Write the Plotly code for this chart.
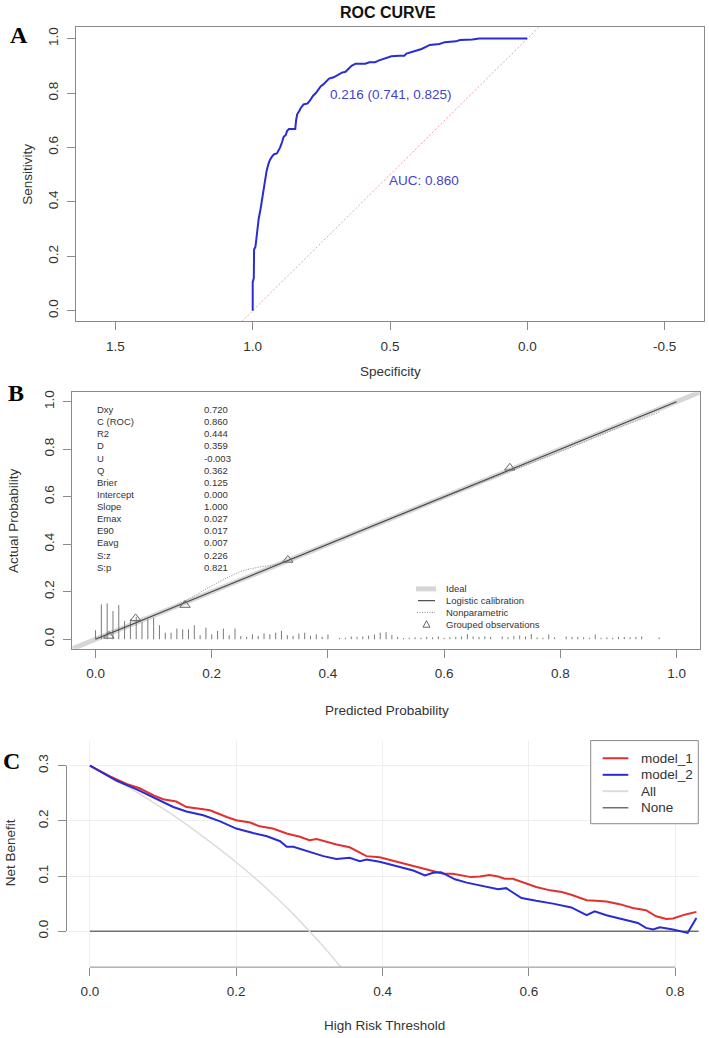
import plotly.graph_objects as go

# ---------------- data ----------------
# Panel A: ROC curve (specificity, sensitivity)
roc_spec = [1.000, 1.000, 0.996, 0.995, 0.990, 0.982, 0.978, 0.972, 0.968, 0.962, 0.956, 0.950,
            0.944, 0.938, 0.930, 0.922, 0.912, 0.905, 0.900, 0.893, 0.887, 0.880, 0.875, 0.868,
            0.845, 0.842, 0.838, 0.830, 0.825, 0.815, 0.800, 0.790, 0.780, 0.770, 0.760, 0.752,
            0.745, 0.735, 0.722, 0.705, 0.690, 0.675, 0.662, 0.640, 0.625, 0.590, 0.575, 0.555,
            0.540, 0.525, 0.510, 0.495, 0.465, 0.448, 0.440, 0.420, 0.400, 0.385, 0.370, 0.355,
            0.320, 0.300, 0.260, 0.245, 0.200, 0.175, 0.000]
roc_sens = [0.000, 0.105, 0.120, 0.225, 0.235, 0.310, 0.340, 0.370, 0.395, 0.440, 0.480, 0.510,
            0.535, 0.552, 0.566, 0.575, 0.578, 0.590, 0.600, 0.620, 0.640, 0.645, 0.660, 0.668,
            0.668, 0.700, 0.722, 0.735, 0.745, 0.758, 0.762, 0.775, 0.790, 0.800, 0.815, 0.825,
            0.830, 0.840, 0.853, 0.858, 0.865, 0.875, 0.878, 0.900, 0.908, 0.908, 0.913, 0.913,
            0.920, 0.925, 0.928, 0.935, 0.937, 0.937, 0.945, 0.950, 0.957, 0.962, 0.970, 0.977,
            0.980, 0.987, 0.990, 0.995, 0.997, 1.000, 1.000]
diag_spec = [1.05, -0.05]
diag_sens = [-0.05, 1.05]
roc_title = "ROC CURVE"
thres_label = "0.216 (0.741, 0.825)"
auc_label = "AUC: 0.860"

# Panel B: calibration
stat_names = ["Dxy", "C (ROC)", "R2", "D", "U", "Q", "Brier", "Intercept", "Slope",
              "Emax", "E90", "Eavg", "S:z", "S:p"]
stat_values = ["0.720", "0.860", "0.444", "0.359", "-0.003", "0.362", "0.125", "0.000",
               "1.000", "0.027", "0.017", "0.007", "0.226", "0.821"]
ideal_x = [-0.05, 1.05]
ideal_y = [-0.05, 1.05]
logit_x = [0.0, 1.0]
logit_y = [0.0, 1.0]
nonpar_x = [0.00, 0.05, 0.10, 0.15, 0.20, 0.25, 0.28, 0.31, 0.34, 0.40, 0.50, 0.60, 0.70, 0.80, 0.90, 0.97]
nonpar_y = [0.005, 0.050, 0.100, 0.155, 0.225, 0.285, 0.303, 0.315, 0.340, 0.400, 0.500, 0.597, 0.695, 0.790, 0.890, 0.955]
group_x = [0.023, 0.069, 0.154, 0.331, 0.713]
group_y = [0.014, 0.088, 0.144, 0.334, 0.722]
spike_x = [0.00, 0.01, 0.02, 0.03, 0.04, 0.05, 0.06, 0.07, 0.08, 0.09,
           0.10, 0.11, 0.12, 0.13, 0.14, 0.15, 0.16, 0.17, 0.18, 0.19,
           0.20, 0.21, 0.22, 0.23, 0.24, 0.25, 0.26, 0.27, 0.28, 0.29,
           0.30, 0.31, 0.32, 0.33, 0.34, 0.35, 0.36, 0.37, 0.38, 0.39,
           0.40, 0.41, 0.42, 0.43, 0.44, 0.45, 0.46, 0.47, 0.48, 0.49,
           0.50, 0.51, 0.52, 0.53, 0.54, 0.55, 0.56, 0.57, 0.58, 0.59,
           0.60, 0.61, 0.62, 0.63, 0.64, 0.65, 0.66, 0.67, 0.68, 0.69,
           0.70, 0.71, 0.72, 0.73, 0.74, 0.75, 0.76, 0.77, 0.78, 0.79,
           0.80, 0.81, 0.82, 0.83, 0.84, 0.85, 0.86, 0.87, 0.88, 0.89,
           0.90, 0.91, 0.92, 0.93, 0.94, 0.95, 0.96, 0.97]
spike_h = [0.038, 0.147, 0.151, 0.119, 0.144, 0.077, 0.084, 0.095, 0.073, 0.084,
           0.091, 0.059, 0.028, 0.028, 0.045, 0.042, 0.042, 0.059, 0.017, 0.049,
           0.021, 0.035, 0.045, 0.017, 0.045, 0.014, 0.010, 0.021, 0.014, 0.025,
           0.021, 0.028, 0.035, 0.017, 0.014, 0.024, 0.028, 0.014, 0.021, 0.011,
           0.020, 0.000, 0.006, 0.006, 0.012, 0.010, 0.012, 0.015, 0.020, 0.028,
           0.030, 0.018, 0.010, 0.005, 0.006, 0.008, 0.006, 0.010, 0.008, 0.012,
           0.006, 0.008, 0.010, 0.012, 0.022, 0.012, 0.010, 0.012, 0.010, 0.000,
           0.012, 0.008, 0.014, 0.016, 0.012, 0.022, 0.008, 0.006, 0.020, 0.008,
           0.000, 0.012, 0.010, 0.010, 0.008, 0.006, 0.020, 0.006, 0.008, 0.006,
           0.010, 0.010, 0.008, 0.010, 0.012, 0.000, 0.000, 0.008]
legend_b = ["Ideal", "Logistic calibration", "Nonparametric", "Grouped observations"]

# Panel C: decision curves
m1_thr = [0.000, 0.027, 0.050, 0.068, 0.087, 0.100, 0.118, 0.132, 0.150, 0.164, 0.187, 0.200,
          0.219, 0.232, 0.250, 0.269, 0.287, 0.300, 0.310, 0.324, 0.337, 0.355, 0.369, 0.378,
          0.396, 0.419, 0.442, 0.460, 0.483, 0.496, 0.505, 0.521, 0.533, 0.546, 0.558, 0.567,
          0.578, 0.597, 0.610, 0.629, 0.645, 0.658, 0.679, 0.692, 0.706, 0.724, 0.742, 0.760,
          0.774, 0.788, 0.797, 0.813, 0.829]
m1_nb = [0.300, 0.281, 0.267, 0.259, 0.246, 0.239, 0.235, 0.225, 0.222, 0.219, 0.207, 0.201,
         0.197, 0.190, 0.186, 0.177, 0.171, 0.165, 0.167, 0.162, 0.157, 0.152, 0.142, 0.136,
         0.134, 0.126, 0.119, 0.113, 0.104, 0.104, 0.102, 0.098, 0.099, 0.102, 0.099, 0.095,
         0.095, 0.086, 0.080, 0.074, 0.071, 0.066, 0.056, 0.055, 0.054, 0.049, 0.042, 0.038,
         0.027, 0.022, 0.023, 0.030, 0.035]
m2_thr = [0.000, 0.036, 0.064, 0.096, 0.114, 0.132, 0.155, 0.178, 0.200, 0.223, 0.242, 0.260,
          0.269, 0.278, 0.296, 0.319, 0.337, 0.355, 0.369, 0.378, 0.396, 0.419, 0.442, 0.458,
          0.469, 0.480, 0.499, 0.515, 0.533, 0.558, 0.569, 0.590, 0.610, 0.633, 0.658, 0.679,
          0.690, 0.706, 0.724, 0.749, 0.760, 0.770, 0.779, 0.797, 0.817, 0.822, 0.829]
m2_nb = [0.300, 0.273, 0.257, 0.237, 0.225, 0.217, 0.210, 0.199, 0.186, 0.178, 0.172, 0.163,
         0.153, 0.153, 0.145, 0.136, 0.131, 0.133, 0.127, 0.130, 0.126, 0.118, 0.110, 0.101,
         0.106, 0.107, 0.094, 0.088, 0.083, 0.076, 0.078, 0.060, 0.055, 0.050, 0.043, 0.029,
         0.036, 0.029, 0.023, 0.015, 0.006, 0.003, 0.007, 0.003, -0.003, 0.008, 0.024]
all_thr = [0.000, 0.025, 0.050, 0.075, 0.100, 0.125, 0.150, 0.175, 0.200, 0.225, 0.250, 0.275,
           0.300, 0.320, 0.343]
all_nb = [0.300, 0.282, 0.263, 0.243, 0.222, 0.200, 0.176, 0.151, 0.125, 0.097, 0.067, 0.035,
          0.000, -0.029, -0.065]
none_thr = [0.0, 0.84]
none_nb = [0.0, 0.0]
legend_c = ["model_1", "model_2", "All", "None"]

# ---------------- styling ----------------
W, H = 709, 1038
FONT = "Liberation Sans, Arial, sans-serif"
SERIF = "Liberation Serif, Times New Roman, serif"
TXT = "#333333"
AXC = "#8a8a8a"
RED = "#e0302f"
BLUE = "#2b2bd2"
FINE_DOT = "1px,1.5px"


def px(x):
    return x / W


def py(y):
    return 1 - y / H


fig = go.Figure()

# Panel A
fig.add_trace(go.Scatter(x=diag_spec, y=diag_sens, mode="lines", xaxis="x", yaxis="y",
                         line=dict(color="#e9a0a0", width=1, dash="2px,2px"), hoverinfo="skip"))
fig.add_trace(go.Scatter(x=roc_spec, y=roc_sens, mode="lines", xaxis="x", yaxis="y",
                         line=dict(color="#2a2ad6", width=2)))

# Panel B
fig.add_trace(go.Scatter(x=ideal_x, y=ideal_y, mode="lines", xaxis="x2", yaxis="y2",
                         line=dict(color="#d6d6d6", width=5)))
sx, sy = [], []
for xv, hv in zip(spike_x, spike_h):
    if hv > 0:
        sx += [xv, xv, None]
        sy += [0, hv, None]
fig.add_trace(go.Scatter(x=sx, y=sy, mode="lines", xaxis="x2", yaxis="y2",
                         line=dict(color="#7a7a7a", width=1)))
fig.add_trace(go.Scatter(x=nonpar_x, y=nonpar_y, mode="lines", xaxis="x2", yaxis="y2",
                         line=dict(color="#8a8a8a", width=1, dash=FINE_DOT, shape="spline")))
fig.add_trace(go.Scatter(x=logit_x, y=logit_y, mode="lines", xaxis="x2", yaxis="y2",
                         line=dict(color="#4a4a4a", width=1.2)))
fig.add_trace(go.Scatter(x=group_x, y=group_y, mode="markers", xaxis="x2", yaxis="y2",
                         marker=dict(symbol="triangle-up-open", size=9, color="#666666",
                                     line=dict(width=1, color="#666666"))))

# Panel C
fig.add_trace(go.Scatter(x=none_thr, y=none_nb, mode="lines", xaxis="x3", yaxis="y3",
                         line=dict(color="#707070", width=1.5)))
fig.add_trace(go.Scatter(x=all_thr, y=all_nb, mode="lines", xaxis="x3", yaxis="y3",
                         line=dict(color="#dcdcdc", width=1.5, shape="spline")))
fig.add_trace(go.Scatter(x=m1_thr, y=m1_nb, mode="lines", xaxis="x3", yaxis="y3",
                         line=dict(color=RED, width=2)))
fig.add_trace(go.Scatter(x=m2_thr, y=m2_nb, mode="lines", xaxis="x3", yaxis="y3",
                         line=dict(color=BLUE, width=2)))


def axis(**kw):
    base = dict(showgrid=False, zeroline=False, ticks="outside", ticklen=8, tickwidth=1,
                tickcolor=AXC, tickfont=dict(family=FONT, size=13.5, color=TXT),
                linecolor=AXC, linewidth=1, ticklabelstandoff=4)
    base.update(kw)
    return base


ticks01 = [0.0, 0.2, 0.4, 0.6, 0.8, 1.0]
ticks01_t = ["0.0", "0.2", "0.4", "0.6", "0.8", "1.0"]

fig.update_layout(
    width=W, height=H, margin=dict(l=0, r=0, t=0, b=0),
    paper_bgcolor="white", plot_bgcolor="white", showlegend=False,
    xaxis=axis(domain=[px(76), px(703.6)], range=[1.6435, -0.642], anchor="y",
               tickvals=[1.5, 1.0, 0.5, 0.0, -0.5], ticktext=["1.5", "1.0", "0.5", "0.0", "-0.5"],
               showline=True, mirror=True),
    yaxis=axis(domain=[py(320), py(25)], range=[-0.0393, 1.0429], anchor="x",
               tickvals=ticks01, ticktext=ticks01_t, tickangle=-90, showline=True, mirror=True),
    xaxis2=axis(domain=[px(72.3), px(699.8)], range=[-0.04, 1.04], anchor="y2",
                tickvals=ticks01, ticktext=ticks01_t, showline=True, mirror=True),
    yaxis2=axis(domain=[py(648), py(391)], range=[-0.04, 1.04], anchor="x2",
                tickvals=ticks01, ticktext=ticks01_t, tickangle=-90, showline=True, mirror=True),
    xaxis3=axis(domain=[px(66.5), px(698.6)], range=[-0.032, 0.832], anchor="y3",
                tickvals=[0.0, 0.2, 0.4, 0.6, 0.8], ticktext=["0.0", "0.2", "0.4", "0.6", "0.8"],
                showgrid=True, gridcolor="#efefef", gridwidth=1, showline=False),
    yaxis3=axis(domain=[py(967), py(740)], range=[-0.0651, 0.3454], anchor="x3",
                tickvals=[0.0, 0.1, 0.2, 0.3], ticktext=["0.0", "0.1", "0.2", "0.3"],
                tickangle=-90, showgrid=True, gridcolor="#efefef", gridwidth=1, showline=False),
)

ann = []


def text(x, y, s, size=13.5, color=TXT, family=FONT, angle=0, xanchor="center", bold=False,
         xref="paper", yref="paper"):
    ann.append(dict(x=x, y=y, xref=xref, yref=yref, text=("<b>%s</b>" % s) if bold else s,
                    showarrow=False, textangle=angle, xanchor=xanchor, yanchor="middle",
                    font=dict(family=family, size=size, color=color)))


# titles / labels
text(px(388), py(11), roc_title, size=16, color="#111111", bold=True)
text(px(19), py(33), "A", size=24, color="#000000", family=SERIF, bold=True)
text(px(16), py(392), "B", size=24, color="#000000", family=SERIF, bold=True)
text(px(11), py(760), "C", size=24, color="#000000", family=SERIF, bold=True)
text(px(390), py(370), "Specificity")
text(px(28), py(173), "Sensitivity", angle=-90)
text(px(14), py(520), "Actual Probability", angle=-90)
text(px(387), py(710), "Predicted Probability")
text(px(10), py(853), "Net Benefit", angle=-90)
text(px(384), py(1025), "High Risk Threshold")

# ROC annotations (data coords)
text(0.726, 0.793, thres_label, color="#4343d0", xanchor="left", xref="x", yref="y")
text(0.512, 0.478, auc_label, color="#4343d0", xanchor="left", xref="x", yref="y")

# stats block in B
for i, (n, v) in enumerate(zip(stat_names, stat_values)):
    yy = 408.3 + i * 12.15
    text(px(95), py(yy), n, size=9.5, color="#333333", xanchor="left")
    text(px(201.7), py(yy), v, size=9.5, color="#333333", xanchor="left")

# legend B
shapes = []
leg_b_y = [588, 599.8, 611.6, 623.4]
for lab, yy in zip(legend_b, leg_b_y):
    text(px(444), py(yy), lab, size=9.5, color="#333333", xanchor="left")
shapes.append(dict(type="line", xref="paper", yref="paper", x0=px(416), x1=px(436),
                   y0=py(leg_b_y[0]), y1=py(leg_b_y[0]), line=dict(color="#d6d6d6", width=5)))
shapes.append(dict(type="line", xref="paper", yref="paper", x0=px(418), x1=px(435),
                   y0=py(leg_b_y[1]), y1=py(leg_b_y[1]), line=dict(color="#4a4a4a", width=1.2)))
shapes.append(dict(type="line", xref="paper", yref="paper", x0=px(417), x1=px(435),
                   y0=py(leg_b_y[2]), y1=py(leg_b_y[2]), line=dict(color="#8a8a8a", width=1, dash=FINE_DOT)))
tc = (426.5, leg_b_y[3])
shapes.append(dict(type="path", xref="paper", yref="paper",
                   path="M %f,%f L %f,%f L %f,%f Z" % (px(tc[0] - 3.5), py(tc[1] + 3), px(tc[0] + 3.5),
                                                        py(tc[1] + 3), px(tc[0]), py(tc[1] - 3.5)),
                   line=dict(color="#666666", width=1)))

# legend C
shapes.append(dict(type="rect", xref="paper", yref="paper", x0=px(590.7), x1=px(698.3),
                   y0=py(823.3), y1=py(740), line=dict(color=AXC, width=1), fillcolor="white"))
leg_c_y = [757.7, 774.3, 790.7, 807.3]
leg_c_col = [RED, BLUE, "#dcdcdc", "#707070"]
leg_c_w = [2, 2, 2, 1.5]
for lab, yy, col, w in zip(legend_c, leg_c_y, leg_c_col, leg_c_w):
    shapes.append(dict(type="line", xref="paper", yref="paper", x0=px(602.7), x1=px(628.3),
                       y0=py(yy), y1=py(yy), line=dict(color=col, width=w)))
    text(px(639.3), py(yy), lab, size=13.5, xanchor="left")

# C detached axis lines (R style)
shapes.append(dict(type="line", xref="x3", yref="y3 domain", x0=0.0, x1=0.8, y0=0, y1=0,
                   line=dict(color=AXC, width=1)))
shapes.append(dict(type="line", xref="x3 domain", yref="y3", x0=0, x1=0, y0=0.0, y1=0.3,
                   line=dict(color=AXC, width=1)))

fig.update_layout(annotations=ann, shapes=shapes)
fig.write_html("out.html")
